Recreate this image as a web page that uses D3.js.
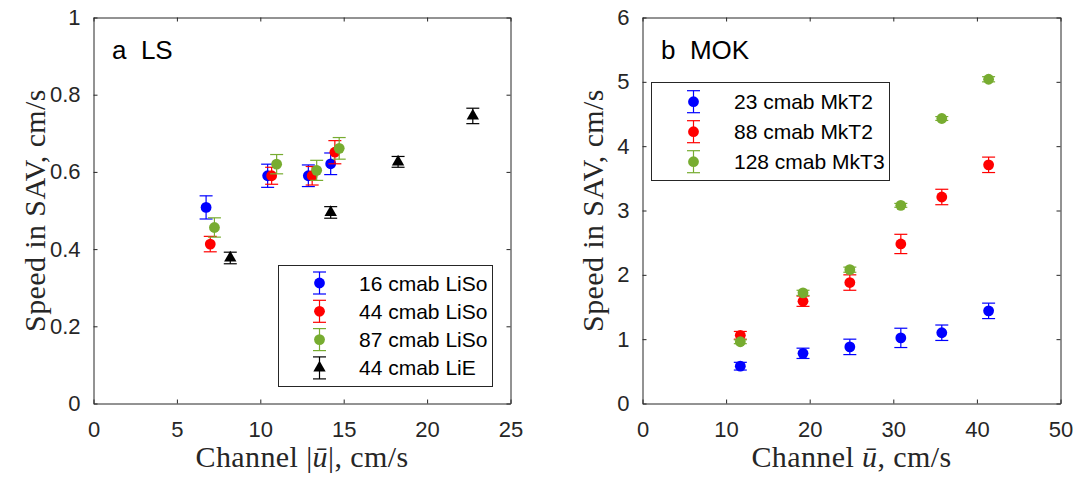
<!DOCTYPE html>
<html>
<head>
<meta charset="utf-8">
<script src="https://cdn.jsdelivr.net/npm/d3@7"></script>
<style>
  body { margin: 0; background: #fff; }
  svg { display: block; }
  .tick text { font-family: "Liberation Sans", Arial, sans-serif; font-size: 22px; fill: #262626; }
  .lab { font-family: "Liberation Serif", "Times New Roman", serif; font-size: 30px; fill: #262626; letter-spacing: 0.4px; }
  .ttl { font-family: "Liberation Sans", Arial, sans-serif; font-size: 26px; fill: #000; white-space: pre; }
  .leg { font-family: "Liberation Sans", Arial, sans-serif; font-size: 21px; fill: #000; }
</style>
</head>
<body>
<svg id="chart" width="1089" height="478"></svg>
<script>
// panel a: LS
const lsNames = ["16 cmab LiSo", "44 cmab LiSo", "87 cmab LiSo", "44 cmab LiE"];
const ls16X = [6.75, 10.44, 12.88, 14.22];
const ls16Y = [0.508, 0.590, 0.590, 0.621];
const ls16E = [0.030, 0.030, 0.028, 0.028];
const ls44X = [7.00, 10.68, 13.11, 14.47];
const ls44Y = [0.413, 0.590, 0.590, 0.651];
const ls44E = [0.020, 0.022, 0.024, 0.030];
const ls87X = [7.25, 10.98, 13.38, 14.73];
const ls87Y = [0.456, 0.620, 0.604, 0.661];
const ls87E = [0.025, 0.025, 0.026, 0.028];
const lieX = [8.2, 14.22, 18.26, 22.74];
const lieY = [0.377, 0.495, 0.626, 0.745];
const lieE = [0.015, 0.015, 0.014, 0.020];
const lsXTicks = [0, 5, 10, 15, 20, 25];
const lsYTicks = [0, 0.2, 0.4, 0.6, 0.8, 1];

// panel b: MOK
const mokNames = ["23 cmab MkT2", "88 cmab MkT2", "128 cmab MkT3"];
const mokX = [11.7, 19.2, 24.8, 30.9, 35.8, 41.4];
const mok23Y = [0.58, 0.78, 0.88, 1.02, 1.10, 1.44];
const mok23E = [0.06, 0.08, 0.12, 0.15, 0.12, 0.12];
const mok88Y = [1.06, 1.59, 1.88, 2.48, 3.21, 3.71];
const mok88E = [0.06, 0.08, 0.12, 0.15, 0.12, 0.12];
const mok128Y = [0.96, 1.72, 2.08, 3.08, 4.43, 5.04];
const mok128E = [0.03, 0.04, 0.04, 0.03, 0.03, 0.04];
const mokXTicks = [0, 10, 20, 30, 40, 50];
const mokYTicks = [0, 1, 2, 3, 4, 5, 6];

const BLUE = "#0000ff", RED = "#ff0000", GREEN = "#77ac30", BLACK = "#000000";
const AX = "#262626";

const svg = d3.select("#chart");
svg.append("rect").attr("width", 1089).attr("height", 478).attr("fill", "#fff");

function zip(xs, ys, es) { return xs.map((x, i) => ({ x: x, y: ys[i], e: es[i] })); }

function marker(g, shape, color) {
  if (shape === "tri") {
    g.append("path").attr("d", d3.symbol(d3.symbolTriangle, 66)()).attr("fill", color);
  } else {
    g.append("circle").attr("r", 5.4).attr("fill", color);
  }
}

function errbar(g, x, y1, y2, color) {
  g.append("line").attr("x1", x).attr("x2", x).attr("y1", y1).attr("y2", y2)
    .attr("stroke", color).attr("stroke-width", 1.2);
  [y1, y2].forEach(yy => g.append("line").attr("x1", x - 6.5).attr("x2", x + 6.5)
    .attr("y1", yy).attr("y2", yy).attr("stroke", color).attr("stroke-width", 1.2));
}

function panel(o) {
  const x = d3.scaleLinear().domain(o.xd).range([o.l, o.r]);
  const y = d3.scaleLinear().domain(o.yd).range([o.b, o.t]);
  const g = svg.append("g");
  const fmt = d => String(d);

  g.append("g").attr("transform", `translate(0,${o.b})`)
    .call(d3.axisBottom(x).tickValues(o.xt).tickFormat(fmt).tickSize(-4).tickSizeOuter(0).tickPadding(18));
  g.append("g").attr("transform", `translate(0,${o.t})`)
    .call(d3.axisTop(x).tickValues(o.xt).tickFormat("").tickSize(-4).tickSizeOuter(0));
  g.append("g").attr("transform", `translate(${o.l},0)`)
    .call(d3.axisLeft(y).tickValues(o.yt).tickFormat(fmt).tickSize(-4).tickSizeOuter(0).tickPadding(13));
  g.append("g").attr("transform", `translate(${o.r},0)`)
    .call(d3.axisRight(y).tickValues(o.yt).tickFormat("").tickSize(-4).tickSizeOuter(0));
  g.selectAll(".domain, .tick line").attr("stroke", AX).attr("stroke-width", 1);
  g.selectAll(".tick text").attr("fill", AX);

  o.series.forEach(s => {
    const sg = g.append("g");
    s.data.forEach(d => {
      const px = x(d.x), py = y(d.y);
      errbar(sg, px, y(d.y + d.e), y(d.y - d.e), s.color);
      const m = sg.append("g").attr("transform", `translate(${px},${py})`);
      marker(m, s.shape, s.color);
    });
  });

  // legend
  const lg = g.append("g");
  lg.append("rect").attr("x", o.lg.x).attr("y", o.lg.y).attr("width", o.lg.w).attr("height", o.lg.h)
    .attr("fill", "#fff").attr("stroke", AX).attr("stroke-width", 1);
  o.series.forEach((s, i) => {
    const ry = o.lg.y0 + i * o.lg.dy;
    errbar(lg, o.lg.mx, ry - 11, ry + 11, s.color);
    const m = lg.append("g").attr("transform", `translate(${o.lg.mx},${ry})`);
    marker(m, s.shape, s.color);
    lg.append("text").attr("class", "leg").attr("x", o.lg.tx).attr("y", ry).attr("dy", "0.36em").text(s.name);
  });

  // title
  g.append("text").attr("class", "ttl").attr("x", o.l + 18.5).attr("y", 59).text(o.title);

  // axis labels
  const xl = g.append("text").attr("class", "lab").attr("text-anchor", "middle")
    .attr("x", (o.l + o.r) / 2).attr("y", 467);
  o.xlab(xl);
  g.append("text").attr("class", "lab").attr("text-anchor", "middle")
    .attr("transform", `translate(${o.yl},${(o.t + o.b) / 2}) rotate(-90)`)
    .text("Speed in SAV, cm/s");
}

panel({
  l: 93.5, r: 510.5, t: 17.5, b: 403.5,
  xd: [0, 25], yd: [0, 1], xt: lsXTicks, yt: lsYTicks,
  title: "a  LS", yl: 44.5,
  xlab: t => {
    t.append("tspan").text("Channel |");
    t.append("tspan").attr("font-style", "italic").text("ū");
    t.append("tspan").text("|, cm/s");
  },
  series: [
    { name: lsNames[0], color: BLUE, shape: "dot", data: zip(ls16X, ls16Y, ls16E) },
    { name: lsNames[1], color: RED, shape: "dot", data: zip(ls44X, ls44Y, ls44E) },
    { name: lsNames[2], color: GREEN, shape: "dot", data: zip(ls87X, ls87Y, ls87E) },
    { name: lsNames[3], color: BLACK, shape: "tri", data: zip(lieX, lieY, lieE) }
  ],
  lg: { x: 278.5, y: 265.5, w: 214, h: 121, y0: 283, dy: 28.3, mx: 319.5, tx: 359 }
});

panel({
  l: 642.5, r: 1060.5, t: 17.5, b: 403.5,
  xd: [0, 50], yd: [0, 6], xt: mokXTicks, yt: mokYTicks,
  title: "b  MOK", yl: 602.5,
  xlab: t => {
    t.append("tspan").text("Channel ");
    t.append("tspan").attr("font-style", "italic").text("ū");
    t.append("tspan").text(", cm/s");
  },
  series: [
    { name: mokNames[0], color: BLUE, shape: "dot", data: zip(mokX, mok23Y, mok23E) },
    { name: mokNames[1], color: RED, shape: "dot", data: zip(mokX, mok88Y, mok88E) },
    { name: mokNames[2], color: GREEN, shape: "dot", data: zip(mokX, mok128Y, mok128E) }
  ],
  lg: { x: 651.5, y: 82.5, w: 238, h: 98, y0: 101.7, dy: 30, mx: 693.5, tx: 734 }
});
</script>
</body>
</html>
